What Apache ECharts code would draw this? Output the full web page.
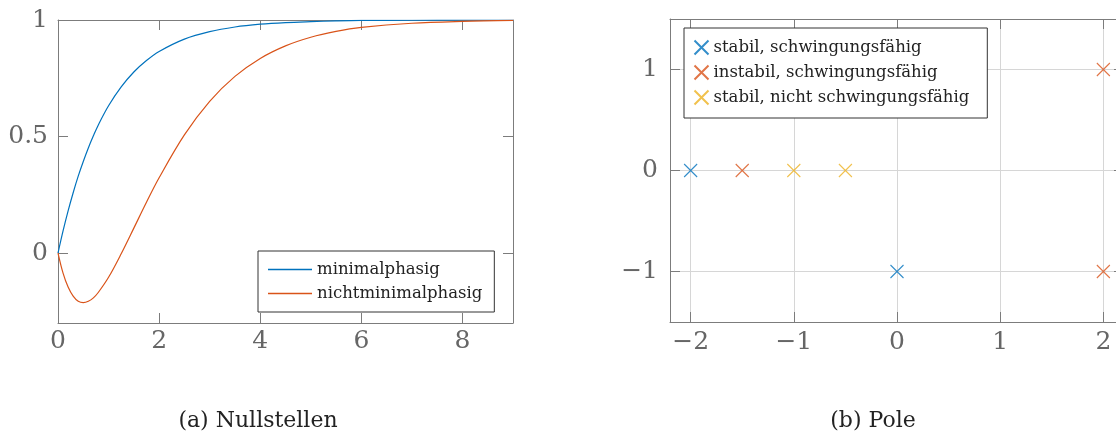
<!DOCTYPE html>
<html><head><meta charset="utf-8">
<script src="https://cdn.jsdelivr.net/npm/echarts@6/dist/echarts.min.js"></script>
<style>html,body{margin:0;padding:0;background:#fff}#c{width:1116px;height:437px}</style>
</head><body><div id="c"></div>
<script>
// ---- data ----
const tValues = [0, 0.1, 0.2, 0.3, 0.4, 0.5, 0.6, 0.7, 0.8, 1, 1.25, 1.5, 1.75, 2, 2.5, 3, 3.5, 4, 4.5, 5, 5.5, 6, 7, 8, 9];
const minimalphasig = [0, 0.095, 0.181, 0.259, 0.330, 0.393, 0.451, 0.503, 0.551, 0.632, 0.713, 0.777, 0.826, 0.865, 0.918, 0.950, 0.970, 0.982, 0.989, 0.993, 0.996, 0.998, 0.999, 1.000, 1.000];
const nichtminimalphasig = [0, -0.086, -0.146, -0.185, -0.207, -0.213, -0.207, -0.192, -0.168, -0.104, -0.003, 0.107, 0.218, 0.323, 0.507, 0.651, 0.758, 0.835, 0.889, 0.926, 0.951, 0.968, 0.986, 0.994, 0.998];
const leftXTicks = [0, 2, 4, 6, 8];
const leftYTicks = [0, 0.5, 1];
const rightXTicks = [-2, -1, 0, 1, 2];
const rightYTicks = [-1, 0, 1];
const stabilSchwingungsfaehig = [[-2, 0], [0, -1]];
const instabilSchwingungsfaehig = [[-1.5, 0], [2, 1], [2, -1]];
const stabilNichtSchwingungsfaehig = [[-1, 0], [-0.5, 0]];
const lineNames = ['minimalphasig', 'nichtminimalphasig'];
const poleNames = ['stabil, schwingungsfähig', 'instabil, schwingungsfähig', 'stabil, nicht schwingungsfähig'];
const captions = ['(a) Nullstellen', '(b) Pole'];

// ---- styling ----
const C1 = '#0072BD', C2 = '#D95319', C3 = '#EDB120';
const AX = '#7c7c7c', LBL = '#666666', GRIDC = '#d6d6d6';
const SERIF = '"DejaVu Serif", serif';
const fmt = v => String(v).replace('-', '\u2212');
const CROSS = 'path://M0,0L10,10M10,0L0,10';

function axis(gridIndex, pos, min, max, ticks, withLabel, margin, split) {
  return {
    type: 'value', gridIndex, position: pos, min, max,
    axisLine: { show: true, onZero: false, lineStyle: { color: AX, width: 1 } },
    axisTick: { show: true, inside: true, length: 10, customValues: ticks, lineStyle: { color: AX, width: 1 } },
    axisLabel: { show: withLabel, customValues: ticks, formatter: fmt, fontFamily: SERIF, fontSize: 25, color: LBL, margin },
    splitLine: { show: !!split, lineStyle: { color: GRIDC, width: 1 } }
  };
}

const chart = echarts.init(document.getElementById('c'), null, { renderer: 'canvas' });
chart.setOption({
  animation: false,
  backgroundColor: '#fff',
  grid: [
    { left: 58, right: 603, top: 20, bottom: 114, containLabel: false, outerBoundsMode: 'none' },
    { left: 670, right: -8, top: 19, bottom: 115, containLabel: false, outerBoundsMode: 'none' }
  ],
  xAxis: [
    axis(0, 'bottom', 0, 9, leftXTicks, true, 6, false),
    axis(0, 'top', 0, 9, leftXTicks, false, 6, false),
    axis(1, 'bottom', -2.2, 2.2, rightXTicks, true, 8, true),
    axis(1, 'top', -2.2, 2.2, rightXTicks, false, 8, false)
  ],
  yAxis: [
    axis(0, 'left', -0.3, 1, leftYTicks, true, 10, false),
    axis(0, 'right', -0.3, 1, leftYTicks, false, 10, false),
    axis(1, 'left', -1.5, 1.5, rightYTicks, true, 12, true),
    axis(1, 'right', -1.5, 1.5, rightYTicks, false, 12, false)
  ],
  legend: [
    {
      data: lineNames, icon: 'rect', orient: 'vertical', left: 258, top: 251,
      itemWidth: 44, itemHeight: 1.4, itemGap: 7, padding: [10, 12, 10, 10],
      borderColor: '#333', borderWidth: 1, backgroundColor: '#fff', borderRadius: 0,
      textStyle: { fontFamily: SERIF, fontSize: 16.5, color: '#222' }
    },
    {
      data: poleNames, orient: 'vertical', left: 684, top: 28,
      itemWidth: 14, itemHeight: 14, itemGap: 6, padding: [10, 18, 11, 8],
      borderColor: '#333', borderWidth: 1, backgroundColor: '#fff', borderRadius: 0,
      textStyle: { fontFamily: SERIF, fontSize: 16.5, color: '#222' }
    }
  ],
  series: [
    { name: lineNames[0], type: 'line', xAxisIndex: 0, yAxisIndex: 0, symbol: 'none', showSymbol: false, smooth: 0.35,
      data: tValues.map((t, i) => [t, minimalphasig[i]]), lineStyle: { color: C1, width: 1.2 }, itemStyle: { color: C1 } },
    { name: lineNames[1], type: 'line', xAxisIndex: 0, yAxisIndex: 0, symbol: 'none', showSymbol: false, smooth: 0.35,
      data: tValues.map((t, i) => [t, nichtminimalphasig[i]]), lineStyle: { color: C2, width: 1.2 }, itemStyle: { color: C2 } },
    { name: poleNames[0], type: 'scatter', xAxisIndex: 2, yAxisIndex: 2, symbol: CROSS, symbolSize: 13,
      data: stabilSchwingungsfaehig, itemStyle: { color: 'none', borderColor: C1, borderWidth: 1.1 } },
    { name: poleNames[1], type: 'scatter', xAxisIndex: 2, yAxisIndex: 2, symbol: CROSS, symbolSize: 13,
      data: instabilSchwingungsfaehig, itemStyle: { color: 'none', borderColor: C2, borderWidth: 1.1 } },
    { name: poleNames[2], type: 'scatter', xAxisIndex: 2, yAxisIndex: 2, symbol: CROSS, symbolSize: 13,
      data: stabilNichtSchwingungsfaehig, itemStyle: { color: 'none', borderColor: C3, borderWidth: 1.1 } }
  ],
  graphic: [
    { type: 'text', x: 258, y: 421, style: { text: captions[0], font: '22px ' + SERIF, fill: '#222', align: 'center', verticalAlign: 'middle' } },
    { type: 'text', x: 873, y: 421, style: { text: captions[1], font: '22px ' + SERIF, fill: '#222', align: 'center', verticalAlign: 'middle' } }
  ]
});
</script>
</body></html>
